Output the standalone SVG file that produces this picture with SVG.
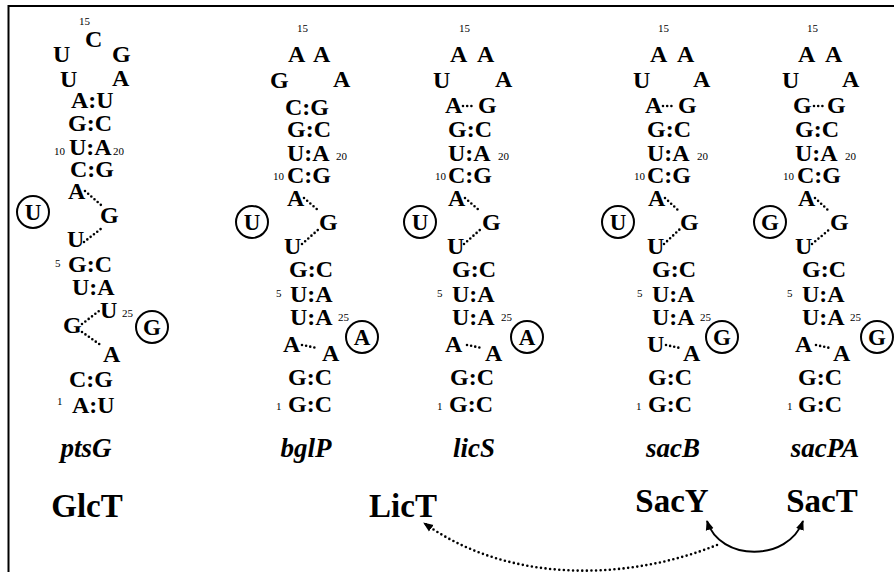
<svg xmlns="http://www.w3.org/2000/svg" width="894" height="572" viewBox="0 0 894 572">
  <style>
    .nt { font-family: "Liberation Serif", "Times New Roman", serif; font-weight: bold; font-size: 24px; fill: #000; }
    .ci { font-family: "Liberation Serif", "Times New Roman", serif; font-weight: bold; font-size: 23px; fill: #000; text-anchor: middle; }
    .num { font-family: "Liberation Serif", "Times New Roman", serif; font-size: 11px; fill: #000; }
    .gene { font-family: "Liberation Serif", "Times New Roman", serif; font-weight: bold; font-style: italic; font-size: 27px; fill: #000; text-anchor: middle; }
    .prot { font-family: "Liberation Serif", "Times New Roman", serif; font-weight: bold; font-size: 33px; fill: #000; text-anchor: middle; }
    .ring { fill: none; stroke: #000; stroke-width: 2; }
    .dots { fill: none; stroke: #000; stroke-width: 2.6; stroke-linecap: round; stroke-dasharray: 0 4.2; }
    .frame { fill: none; stroke: #000; stroke-width: 2; }
    .link { fill: none; stroke: #000; stroke-width: 2; }
    .link-dot { fill: none; stroke: #000; stroke-width: 2.6; stroke-linecap: round; stroke-dasharray: 0 4.6; }
  </style>
  <defs>
    <marker id="head" viewBox="0 0 10 10" refX="9" refY="5" markerWidth="10" markerHeight="10" markerUnits="userSpaceOnUse" orient="auto-start-reverse">
      <path d="M0 1 L10 5 L0 9 Z" fill="#000"/>
    </marker>
  </defs>

  <rect width="894" height="572" fill="#fff"/>

  <!-- frame: top and left rules -->
  <path class="frame" d="M8.5 572 V6 H894"/>

  <!-- ptsG terminator -->
  <g id="ptsG">
    <text class="num" x="79" y="25">15</text>
    <text class="nt" x="85" y="47">C</text>
    <text class="nt" x="53" y="62">U</text>
    <text class="nt" x="112" y="62">G</text>
    <text class="nt" x="60" y="87">U</text>
    <text class="nt" x="112" y="86">A</text>
    <text class="nt" x="71" y="108">A:U</text>
    <text class="nt" x="68" y="131">G:C</text>
    <text class="num" x="54" y="155">10</text>
    <text class="nt" x="69" y="155">U:A</text>
    <text class="num" x="113" y="155">20</text>
    <text class="nt" x="70" y="177">C:G</text>
    <text class="nt" x="68" y="199">A</text>
    <path class="dots" d="M85 191 L101 205"/>
    <text class="nt" x="100" y="223">G</text>
    <circle class="ring" cx="33" cy="212" r="16"/>
    <text class="ci" x="33" y="220">U</text>
    <text class="nt" x="67" y="247">U</text>
    <path class="dots" d="M84 242 L102 228"/>
    <text class="num" x="55" y="267">5</text>
    <text class="nt" x="68" y="272">G:C</text>
    <text class="nt" x="72" y="295">U:A</text>
    <text class="nt" x="100" y="318">U</text>
    <text class="num" x="122" y="317">25</text>
    <path class="dots" d="M82 324 L99 311"/>
    <text class="nt" x="63" y="333">G</text>
    <circle class="ring" cx="152" cy="327" r="16"/>
    <text class="ci" x="152" y="335">G</text>
    <path class="dots" d="M82 332 L102 346"/>
    <text class="nt" x="103" y="362">A</text>
    <text class="nt" x="69" y="387">C:G</text>
    <text class="num" x="57" y="405">1</text>
    <text class="nt" x="72" y="413">A:U</text>
  </g>

  <!-- bglP terminator -->
  <g id="bglP">
    <text class="num" x="297" y="32">15</text>
    <text class="nt" x="288" y="62">A</text>
    <text class="nt" x="313" y="62">A</text>
    <text class="nt" x="270" y="88">G</text>
    <text class="nt" x="333" y="87">A</text>
    <text class="nt" x="285" y="115">C:G</text>
    <text class="nt" x="287" y="137">G:C</text>
    <text class="nt" x="287" y="161">U:A</text>
    <text class="num" x="336" y="160">20</text>
    <text class="num" x="273" y="180">10</text>
    <text class="nt" x="287" y="183">C:G</text>
    <text class="nt" x="287" y="206">A</text>
    <path class="dots" d="M304 198 L319 211"/>
    <text class="nt" x="319" y="230">G</text>
    <circle class="ring" cx="252" cy="222" r="16"/>
    <text class="ci" x="252" y="230">U</text>
    <text class="nt" x="284" y="254">U</text>
    <path class="dots" d="M302 244 L319 229"/>
    <text class="nt" x="289" y="277">G:C</text>
    <text class="num" x="276" y="297">5</text>
    <text class="nt" x="290" y="302">U:A</text>
    <text class="nt" x="290" y="325">U:A</text>
    <text class="num" x="338" y="321">25</text>
    <circle class="ring" cx="362" cy="337" r="16"/>
    <text class="ci" x="362" y="345">A</text>
    <text class="nt" x="283" y="352">A</text>
    <path class="dots" d="M302 345 L317 348"/>
    <text class="nt" x="322" y="361">A</text>
    <text class="nt" x="288" y="385">G:C</text>
    <text class="num" x="276" y="410">1</text>
    <text class="nt" x="288" y="412">G:C</text>
  </g>

  <!-- licS terminator -->
  <g id="licS" transform="translate(161 0)">
    <text class="num" x="298" y="32">15</text>
    <text class="nt" x="289" y="62">A</text>
    <text class="nt" x="316" y="62">A</text>
    <text class="nt" x="272" y="88">U</text>
    <text class="nt" x="334" y="87">A</text>
    <text class="nt" x="284" y="113">A</text>
    <path class="dots" d="M302 106 L314 106"/>
    <text class="nt" x="317" y="113">G</text>
    <text class="nt" x="287" y="137">G:C</text>
    <text class="nt" x="287" y="161">U:A</text>
    <text class="num" x="337" y="160">20</text>
    <text class="num" x="274" y="180">10</text>
    <text class="nt" x="287" y="183">C:G</text>
    <text class="nt" x="287" y="206">A</text>
    <path class="dots" d="M304 198 L319 211"/>
    <text class="nt" x="321" y="230">G</text>
    <circle class="ring" cx="259" cy="222" r="16"/>
    <text class="ci" x="259" y="230">U</text>
    <text class="nt" x="286" y="254">U</text>
    <path class="dots" d="M303 244 L320 229"/>
    <text class="nt" x="291" y="277">G:C</text>
    <text class="num" x="276" y="297">5</text>
    <text class="nt" x="291" y="302">U:A</text>
    <text class="nt" x="291" y="325">U:A</text>
    <text class="num" x="340" y="321">25</text>
    <circle class="ring" cx="366" cy="337" r="16"/>
    <text class="ci" x="366" y="345">A</text>
    <text class="nt" x="284" y="352">A</text>
    <path class="dots" d="M306 345 L321 348"/>
    <text class="nt" x="324" y="361">A</text>
    <text class="nt" x="289" y="385">G:C</text>
    <text class="num" x="276" y="410">1</text>
    <text class="nt" x="288" y="412">G:C</text>
  </g>

  <!-- sacB terminator -->
  <g id="sacB" transform="translate(360 0)">
    <text class="num" x="298" y="32">15</text>
    <text class="nt" x="290" y="62">A</text>
    <text class="nt" x="317" y="62">A</text>
    <text class="nt" x="273" y="88">U</text>
    <text class="nt" x="333" y="87">A</text>
    <text class="nt" x="285" y="113">A</text>
    <path class="dots" d="M303 106 L315 106"/>
    <text class="nt" x="318" y="113">G</text>
    <text class="nt" x="287" y="137">G:C</text>
    <text class="nt" x="287" y="161">U:A</text>
    <text class="num" x="337" y="160">20</text>
    <text class="num" x="274" y="180">10</text>
    <text class="nt" x="287" y="183">C:G</text>
    <text class="nt" x="288" y="206">A</text>
    <path class="dots" d="M305 198 L319 211"/>
    <text class="nt" x="320" y="230">G</text>
    <circle class="ring" cx="258" cy="222" r="16"/>
    <text class="ci" x="258" y="230">U</text>
    <text class="nt" x="287" y="254">U</text>
    <path class="dots" d="M304 244 L320 229"/>
    <text class="nt" x="292" y="277">G:C</text>
    <text class="num" x="277" y="297">5</text>
    <text class="nt" x="292" y="302">U:A</text>
    <text class="nt" x="292" y="325">U:A</text>
    <text class="num" x="340" y="321">25</text>
    <circle class="ring" cx="362" cy="337" r="16"/>
    <text class="ci" x="362" y="345">G</text>
    <text class="nt" x="287" y="352">U</text>
    <path class="dots" d="M306 345 L320 348"/>
    <text class="nt" x="323" y="361">A</text>
    <text class="nt" x="288" y="385">G:C</text>
    <text class="num" x="276" y="410">1</text>
    <text class="nt" x="288" y="412">G:C</text>
  </g>

  <!-- sacPA terminator -->
  <g id="sacPA" transform="translate(510 0)">
    <text class="num" x="297" y="32">15</text>
    <text class="nt" x="288" y="62">A</text>
    <text class="nt" x="315" y="62">A</text>
    <text class="nt" x="272" y="88">U</text>
    <text class="nt" x="332" y="87">A</text>
    <text class="nt" x="283" y="113">G</text>
    <path class="dots" d="M304 106 L315 106"/>
    <text class="nt" x="317" y="113">G</text>
    <text class="nt" x="285" y="137">G:C</text>
    <text class="nt" x="285" y="161">U:A</text>
    <text class="num" x="335" y="160">20</text>
    <text class="num" x="273" y="180">10</text>
    <text class="nt" x="287" y="183">C:G</text>
    <text class="nt" x="288" y="206">A</text>
    <path class="dots" d="M305 198 L319 211"/>
    <text class="nt" x="320" y="230">G</text>
    <circle class="ring" cx="260" cy="222" r="16"/>
    <text class="ci" x="260" y="230">G</text>
    <text class="nt" x="285" y="254">U</text>
    <path class="dots" d="M302 244 L320 229"/>
    <text class="nt" x="292" y="277">G:C</text>
    <text class="num" x="277" y="297">5</text>
    <text class="nt" x="292" y="302">U:A</text>
    <text class="nt" x="292" y="325">U:A</text>
    <text class="num" x="340" y="321">25</text>
    <circle class="ring" cx="367" cy="337" r="16"/>
    <text class="ci" x="367" y="345">G</text>
    <text class="nt" x="285" y="352">A</text>
    <path class="dots" d="M306 345 L320 348"/>
    <text class="nt" x="323" y="361">A</text>
    <text class="nt" x="288" y="385">G:C</text>
    <text class="num" x="277" y="410">1</text>
    <text class="nt" x="288" y="412">G:C</text>
  </g>

  <!-- gene names -->
  <g id="genes">
    <text class="gene" x="86" y="457">ptsG</text>
    <text class="gene" x="306" y="457">bglP</text>
    <text class="gene" x="474" y="457">licS</text>
    <text class="gene" x="673" y="457">sacB</text>
    <text class="gene" x="825" y="457">sacPA</text>
  </g>

  <!-- antiterminator proteins -->
  <g id="GlcT"><text class="prot" x="87" y="517">GlcT</text></g>
  <g id="LicT"><text class="prot" x="403" y="517">LicT</text></g>
  <g id="SacY"><text class="prot" x="672" y="512">SacY</text></g>
  <g id="SacT"><text class="prot" x="822" y="512">SacT</text></g>

  <!-- cross-recognition connectors -->
  <g id="connectors">
    <path class="link" d="M707 521 C720 562 788 562 803 521" marker-start="url(#head)" marker-end="url(#head)"/>
    <path class="link-dot" d="M717 545 C630 580 510 585 424 523" marker-end="url(#head)"/>
  </g>
</svg>
